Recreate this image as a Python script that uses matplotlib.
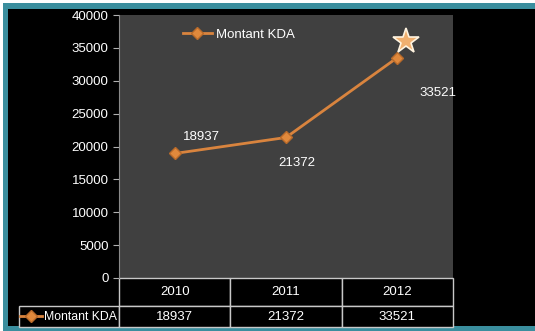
import matplotlib
matplotlib.use("Agg")
import matplotlib.pyplot as plt
from matplotlib.patches import Rectangle
from matplotlib.table import Table
from matplotlib.transforms import offset_copy

# ---- data ----
years = ["2010", "2011", "2012"]
montant = [18937, 21372, 33521]
series_name = "Montant KDA"
label_offsets = [(27, 16), (11, -26), (41, -35)]  # data label offsets, pixels

plt.rcParams['font.family'] = ['Liberation Sans', 'DejaVu Sans']
plt.rcParams['font.size'] = 9

W, H = 535, 331
fig = plt.figure(figsize=(W / 100, H / 100), dpi=100, facecolor='white')

# frame: teal border, black inside
fig.patches.append(Rectangle((3 / W, 0), 1 - 3 / W, 1 - 3 / H, transform=fig.transFigure,
                             facecolor='#3a8e9e', edgecolor='none', zorder=-3))
fig.patches.append(Rectangle((8 / W, 5 / H), 1 - 8 / W, 1 - 14 / H, transform=fig.transFigure,
                             facecolor='black', edgecolor='none', zorder=-2))

ax = fig.add_axes([119 / W, 53 / H, 334 / W, 263 / H])
ax.set_facecolor('#404040')

x = list(range(len(years)))
orange = '#d9843e'
line, = ax.plot(x, montant, color=orange, lw=2, marker='D', ms=6,
                markerfacecolor='#e0893c', markeredgecolor='#b86a2a', label=series_name)

# star on the last point
star_tr = offset_copy(ax.transData, fig=fig, x=9, y=17, units='dots')
ax.plot([x[-1]], [montant[-1]], transform=star_tr, marker='*', ms=19, ls='none',
        markerfacecolor='#f0b070', markeredgecolor='#fff4e0', markeredgewidth=1.2)

for xi, v, (dx, dy) in zip(x, montant, label_offsets):
    ax.annotate(str(v), (xi, v), xytext=(dx, dy), textcoords='offset pixels',
                ha='center', va='center', color='white', fontsize=9.5)

ax.set_xlim(-0.5, len(years) - 0.5)
ax.set_ylim(0, 40000)
ax.set_yticks(range(0, 40001, 5000))
ax.set_xticks([])
ax.tick_params(axis='y', colors='#b0b0b0', labelcolor='white', length=4, width=0.8, labelsize=9.5)
for s in ['top', 'right', 'bottom']:
    ax.spines[s].set_visible(False)
ax.spines['left'].set_color('#8a8a8a')

leg = ax.legend(loc='center left', bbox_to_anchor=(0.155, 0.924), frameon=False,
                handlelength=2.2, handletextpad=0.3, labelcolor='white', fontsize=9.5)
ax.add_artist(leg)

# data table under the axis (sizes in axes fractions)
col_w = 1 / 3
lab_w = 100 / 334
h_head, h_row = 28 / 263, 21 / 263
tab = Table(ax, bbox=[0, -(h_head + h_row), 1, h_head + h_row])
for j, yr in enumerate(years):
    tab.add_cell(0, j, width=col_w, height=h_head, text=yr, loc='center', facecolor='black')
tab.add_cell(1, -1, width=lab_w, height=h_row, text='', facecolor='black')
for j, v in enumerate(montant):
    tab.add_cell(1, j, width=col_w, height=h_row, text=str(v), loc='center', facecolor='black')
tab.auto_set_font_size(False)
tab.set_fontsize(9.5)
for cell in tab.get_celld().values():
    cell.set_edgecolor('#c8c8c8')
    cell.set_linewidth(1)
    cell.get_text().set_color('white')
    cell.set_clip_on(False)
ax.add_table(tab)
tab.set_clip_on(False)

# series key in the row-label cell
leg2 = ax.legend(handles=[line], labels=[series_name], loc='center left',
                 bbox_to_anchor=(-lab_w - 0.012, -(h_head + h_row / 2) - 0.003), frameon=False,
                 handlelength=1.8, handletextpad=0.2, labelcolor='white', fontsize=8.8,
                 borderaxespad=0)

fig.savefig('out.png', dpi=100, facecolor=fig.get_facecolor())
